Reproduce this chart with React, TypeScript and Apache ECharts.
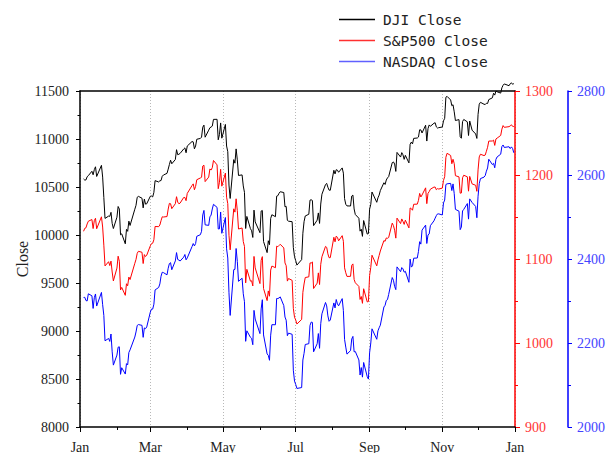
import React, { useEffect, useRef } from 'react';
import * as echarts from 'echarts';

// Trading days of 2010, one list of day numbers per month
const tradingDays: number[][] = [
  [4, 5, 6, 7, 8, 11, 12, 13, 14, 15, 19, 20, 21, 22, 25, 26, 27, 28, 29],
  [1, 2, 3, 4, 5, 8, 9, 10, 11, 12, 16, 17, 18, 19, 22, 23, 24, 25, 26],
  [1, 2, 3, 4, 5, 8, 9, 10, 11, 12, 15, 16, 17, 18, 19, 22, 23, 24, 25, 26, 29, 30, 31],
  [1, 5, 6, 7, 8, 9, 12, 13, 14, 15, 16, 19, 20, 21, 22, 23, 26, 27, 28, 29, 30],
  [3, 4, 5, 6, 7, 10, 11, 12, 13, 14, 17, 18, 19, 20, 21, 24, 25, 26, 27, 28],
  [1, 2, 3, 4, 7, 8, 9, 10, 11, 14, 15, 16, 17, 18, 21, 22, 23, 24, 25, 28, 29, 30],
  [1, 2, 6, 7, 8, 9, 12, 13, 14, 15, 16, 19, 20, 21, 22, 23, 26, 27, 28, 29, 30],
  [2, 3, 4, 5, 6, 9, 10, 11, 12, 13, 16, 17, 18, 19, 20, 23, 24, 25, 26, 27, 30, 31],
  [1, 2, 3, 7, 8, 9, 10, 13, 14, 15, 16, 17, 20, 21, 22, 23, 24, 27, 28, 29, 30],
  [1, 4, 5, 6, 7, 8, 11, 12, 13, 14, 15, 18, 19, 20, 21, 22, 25, 26, 27, 28, 29],
  [1, 2, 3, 4, 5, 8, 9, 10, 11, 12, 15, 16, 17, 18, 19, 22, 23, 24, 26, 29, 30],
  [1, 2, 3, 6, 7, 8, 9, 10, 13, 14, 15, 16, 17, 20, 21, 22, 23, 27, 28, 29, 30, 31],
];

const djiClose: number[] = [
  10583.96, 10572.02, 10573.68, 10606.86, 10618.19, 10663.99, 10627.26, 10680.77, 10710.55, 10609.65, 10725.43, 10603.15, 10389.88, 10172.98, 10196.86, 10194.29, 10236.16, 10120.46, 10067.33,
  10185.53, 10296.85, 10270.55, 10002.18, 10012.23, 9908.39, 10058.64, 10038.38, 10144.19, 10099.14, 10268.81, 10309.24, 10392.9, 10402.35, 10383.38, 10282.41, 10374.16, 10321.03, 10325.26,
  10403.79, 10405.98, 10396.76, 10444.14, 10566.2, 10552.52, 10564.38, 10567.33, 10611.84, 10624.69, 10642.15, 10685.98, 10733.67, 10779.17, 10741.98, 10785.89, 10888.83, 10836.15, 10841.21, 10850.36, 10895.86, 10907.42, 10856.63,
  10927.07, 10973.55, 10969.99, 10897.52, 10927.07, 10997.35, 11005.97, 11019.42, 11123.11, 11144.57, 11018.66, 11092.05, 11117.06, 11124.92, 11134.29, 11204.28, 11205.03, 10991.99, 11045.27, 11167.32, 11008.61,
  11151.83, 10926.77, 10868.12, 10520.32, 10380.43, 10785.14, 10748.26, 10896.91, 10782.95, 10620.16, 10625.83, 10510.95, 10444.37, 10068.01, 10193.39, 10066.57, 10043.75, 9974.45, 10258.99, 10136.63,
  10024.02, 10249.54, 10255.28, 9931.97, 9816.49, 9939.98, 9899.25, 10172.53, 10211.07, 10190.89, 10404.77, 10409.46, 10434.17, 10450.64, 10442.41, 10293.52, 10298.44, 10152.8, 10143.81, 10138.52, 9870.3, 9774.02,
  9732.53, 9686.48, 9743.62, 10018.28, 10138.99, 10198.03, 10216.27, 10363.02, 10366.72, 10359.31, 10097.9, 10154.43, 10229.96, 10120.53, 10322.3, 10424.62, 10525.43, 10537.69, 10497.88, 10467.16, 10465.94,
  10674.38, 10636.38, 10680.43, 10674.98, 10653.56, 10698.75, 10644.25, 10378.83, 10319.95, 10303.15, 10302.01, 10405.85, 10415.54, 10271.21, 10213.62, 10174.41, 10040.45, 10060.06, 9985.81, 10150.65, 10009.73, 10014.72,
  10269.47, 10320.1, 10447.93, 10340.69, 10387.01, 10415.24, 10462.77, 10544.13, 10526.49, 10572.73, 10594.83, 10607.85, 10753.62, 10761.03, 10739.31, 10662.42, 10860.26, 10812.04, 10858.14, 10835.28, 10788.05,
  10829.68, 10751.27, 10944.72, 10967.65, 10948.58, 11006.48, 11010.34, 11020.4, 11096.08, 11094.57, 11062.78, 11143.69, 10978.62, 11107.97, 11146.57, 11132.56, 11164.05, 11169.46, 11126.28, 11113.95, 11118.49,
  11124.62, 11188.72, 11215.13, 11434.84, 11444.08, 11406.84, 11346.75, 11357.04, 11283.1, 11192.58, 11201.97, 11023.5, 11007.88, 11181.23, 11203.55, 11178.58, 11036.37, 11187.28, 11092.0, 11052.49, 11006.02,
  11255.78, 11362.41, 11382.09, 11362.19, 11359.16, 11372.48, 11370.06, 11410.32, 11428.56, 11476.54, 11457.47, 11499.25, 11491.91, 11478.13, 11533.16, 11559.49, 11573.49, 11555.03, 11575.54, 11585.38, 11569.71, 11577.51,
];

const spxClose: number[] = [
  1132.99, 1136.52, 1137.14, 1141.69, 1144.98, 1146.98, 1136.22, 1145.68, 1148.46, 1136.03, 1150.23, 1138.04, 1116.48, 1091.76, 1096.78, 1092.17, 1097.5, 1084.53, 1073.87,
  1089.19, 1103.32, 1097.28, 1063.11, 1066.19, 1056.74, 1070.52, 1068.13, 1078.47, 1075.51, 1094.87, 1099.51, 1106.75, 1109.17, 1108.01, 1094.6, 1105.24, 1102.94, 1104.49,
  1115.71, 1118.31, 1118.79, 1122.97, 1138.7, 1138.5, 1140.45, 1145.61, 1150.24, 1149.99, 1150.51, 1159.46, 1166.21, 1165.83, 1159.9, 1165.81, 1174.17, 1167.72, 1165.73, 1166.59, 1173.22, 1173.27, 1169.43,
  1178.1, 1187.44, 1189.44, 1182.45, 1186.44, 1194.37, 1196.48, 1197.3, 1210.65, 1211.67, 1192.13, 1197.52, 1207.17, 1205.94, 1208.67, 1217.28, 1212.05, 1183.71, 1191.36, 1206.78, 1186.69,
  1202.26, 1173.6, 1165.87, 1128.15, 1110.88, 1159.73, 1155.79, 1171.67, 1157.44, 1135.68, 1136.94, 1120.8, 1115.05, 1071.59, 1087.69, 1073.65, 1074.03, 1067.95, 1103.06, 1089.41,
  1070.71, 1098.38, 1102.83, 1064.88, 1050.47, 1062.0, 1055.69, 1086.84, 1091.6, 1089.63, 1115.23, 1114.61, 1116.04, 1117.51, 1113.2, 1095.31, 1092.04, 1073.69, 1076.76, 1074.57, 1041.24, 1030.71,
  1027.37, 1022.58, 1028.06, 1060.27, 1070.25, 1077.96, 1078.75, 1095.34, 1095.17, 1096.48, 1064.88, 1071.25, 1083.48, 1069.59, 1093.67, 1102.66, 1115.01, 1113.84, 1106.13, 1101.53, 1101.6,
  1125.86, 1120.46, 1127.24, 1125.81, 1121.64, 1127.79, 1121.06, 1089.47, 1083.61, 1079.25, 1079.38, 1092.54, 1094.16, 1075.63, 1071.69, 1067.36, 1051.87, 1055.33, 1047.22, 1064.59, 1048.92, 1049.33,
  1080.29, 1090.1, 1104.51, 1091.84, 1098.87, 1104.18, 1109.55, 1121.9, 1121.1, 1125.07, 1124.66, 1125.59, 1142.71, 1139.78, 1134.28, 1124.83, 1148.67, 1142.16, 1147.7, 1144.73, 1141.2,
  1146.24, 1137.03, 1160.75, 1159.97, 1158.06, 1165.15, 1165.32, 1169.77, 1178.1, 1173.81, 1176.19, 1184.71, 1165.9, 1178.17, 1180.26, 1183.08, 1185.62, 1185.64, 1182.45, 1183.78, 1183.26,
  1184.38, 1193.57, 1197.96, 1221.06, 1225.85, 1223.25, 1213.4, 1218.71, 1213.54, 1199.21, 1197.75, 1178.34, 1178.59, 1196.69, 1199.73, 1197.84, 1180.73, 1198.35, 1189.4, 1187.76, 1180.55,
  1206.07, 1221.53, 1224.71, 1223.12, 1223.75, 1228.28, 1233.0, 1240.4, 1240.46, 1241.59, 1235.23, 1242.87, 1243.91, 1247.08, 1254.6, 1258.84, 1256.77, 1257.54, 1258.51, 1259.78, 1257.88, 1257.64,
];

const nasdaqClose: number[] = [
  2308.42, 2308.71, 2301.09, 2300.05, 2317.17, 2312.41, 2282.31, 2307.9, 2316.74, 2287.99, 2320.4, 2291.25, 2265.7, 2205.29, 2210.8, 2203.73, 2221.41, 2179.0, 2147.35,
  2171.2, 2190.06, 2190.91, 2125.43, 2141.12, 2126.05, 2150.87, 2147.87, 2177.41, 2183.53, 2214.19, 2226.29, 2241.71, 2243.87, 2242.03, 2213.44, 2235.9, 2234.22, 2238.26,
  2273.57, 2280.79, 2280.68, 2292.31, 2326.35, 2332.21, 2340.68, 2358.95, 2368.46, 2367.66, 2362.21, 2378.01, 2389.09, 2391.28, 2374.41, 2395.4, 2415.24, 2398.76, 2397.41, 2395.13, 2404.36, 2410.69, 2397.96,
  2402.58, 2429.53, 2436.81, 2431.16, 2436.81, 2454.05, 2457.87, 2465.99, 2504.86, 2515.69, 2481.26, 2480.11, 2500.31, 2504.61, 2519.07, 2530.15, 2522.95, 2471.47, 2471.73, 2511.92, 2461.19,
  2498.74, 2424.25, 2402.29, 2319.64, 2265.64, 2374.67, 2375.31, 2425.02, 2394.36, 2346.85, 2354.23, 2317.26, 2298.37, 2204.01, 2229.04, 2213.55, 2210.95, 2195.88, 2277.68, 2257.04,
  2222.33, 2281.07, 2303.03, 2219.17, 2173.9, 2170.57, 2158.85, 2218.71, 2243.6, 2243.48, 2305.93, 2305.88, 2307.16, 2309.8, 2289.09, 2261.8, 2254.23, 2217.42, 2223.48, 2220.65, 2135.18, 2109.24,
  2101.36, 2091.79, 2093.88, 2159.47, 2175.4, 2196.45, 2198.36, 2242.03, 2249.84, 2249.08, 2179.05, 2198.23, 2222.49, 2187.33, 2245.89, 2269.47, 2296.43, 2288.25, 2264.56, 2251.69, 2254.7,
  2295.36, 2283.52, 2303.57, 2293.06, 2288.47, 2305.69, 2277.17, 2208.63, 2190.27, 2173.48, 2181.87, 2209.44, 2215.7, 2178.95, 2179.76, 2159.63, 2123.76, 2141.54, 2118.69, 2153.63, 2119.97, 2114.03,
  2176.84, 2200.01, 2233.75, 2208.89, 2228.87, 2236.2, 2242.48, 2285.71, 2289.77, 2301.32, 2303.25, 2315.61, 2355.83, 2349.35, 2334.55, 2327.08, 2381.22, 2369.77, 2379.59, 2376.56, 2368.62,
  2370.75, 2344.52, 2399.83, 2380.66, 2383.67, 2401.91, 2402.33, 2417.92, 2441.23, 2435.38, 2468.77, 2480.66, 2436.95, 2457.39, 2459.67, 2479.39, 2490.85, 2497.29, 2503.26, 2507.37, 2507.41,
  2504.84, 2533.52, 2540.27, 2577.34, 2578.98, 2580.05, 2562.98, 2578.78, 2555.52, 2518.21, 2513.82, 2469.84, 2476.01, 2514.4, 2518.12, 2532.02, 2494.95, 2543.12, 2534.56, 2525.22, 2498.23,
  2549.43, 2579.35, 2591.46, 2594.92, 2598.49, 2609.16, 2616.67, 2637.54, 2624.91, 2627.72, 2617.22, 2637.31, 2642.97, 2649.56, 2667.61, 2671.48, 2665.6, 2667.27, 2662.88, 2666.93, 2662.98, 2652.87,
];

const seriesNames = ['DJI Close', 'S&P500 Close', 'NASDAQ Close'];
const seriesColors = ['#000000', '#ff0000', '#0000ff'];
const legendColors = ['#000000', '#ff3030', '#6060ff'];
const monthLabels = ['Jan', 'Feb', 'Mar', 'Apr', 'May', 'Jun', 'Jul', 'Aug', 'Sep', 'Oct', 'Nov', 'Dec'];
const xRange = ['2010-01-01', '2011-01-01'];

const pad = (n: number) => (n < 10 ? '0' + n : '' + n);
const dates: string[] = tradingDays.flatMap((days, m) => days.map((d) => `2010-${pad(m + 1)}-${pad(d)}`));
const toPairs = (vals: number[]) => vals.map((v, i) => [dates[i], v]);

const SERIF = '"Liberation Serif", "DejaVu Serif", serif';
const MONO = '"DejaVu Sans Mono", "Liberation Mono", monospace';

export default function App() {
  const ref = useRef<HTMLDivElement>(null);
  useEffect(() => {
    document.body.style.margin = '0';
    if (!ref.current) return;
    const chart = echarts.init(ref.current, undefined, { renderer: 'svg' });
    const labelStyle = { fontFamily: SERIF, fontSize: 14 };
    const plain = (v: number) => String(v);
    const mkSeries = (i: number, vals: number[]) => ({
      name: seriesNames[i],
      type: 'line',
      yAxisIndex: i,
      showSymbol: false,
      symbol: 'none',
      clip: false,
      color: seriesColors[i],
      itemStyle: { color: seriesColors[i] },
      lineStyle: { width: 1, color: seriesColors[i] },
      data: toPairs(vals),
    });
    chart.setOption({
      animation: false,
      backgroundColor: '#fff',
      color: seriesColors,
      grid: { left: 80, right: 93, top: 91, bottom: 26, containLabel: false, outerBoundsMode: 'none' },
      legend: {
        orient: 'vertical',
        left: 334,
        top: 7,
        itemWidth: 36,
        itemHeight: 1.5,
        itemGap: 6,
        icon: 'rect',
        data: seriesNames.map((name, i) => ({
          name,
          icon: 'rect',
          itemStyle: { color: legendColors[i], borderWidth: 0 },
        })),
        textStyle: { fontFamily: MONO, fontSize: 14.5, color: '#222', lineHeight: 15, padding: [0, 0, 0, 3] },
      },
      xAxis: [
        {
          type: 'time',
          position: 'bottom',
          min: xRange[0],
          max: xRange[1],
          splitNumber: 5,
          axisLine: { show: true, onZero: false, lineStyle: { color: '#000', width: 1.5 } },
          axisTick: { show: true, length: 5, lineStyle: { color: '#000' } },
          axisLabel: {
            ...labelStyle,
            color: '#222',
            margin: 13,
            showMinLabel: true,
            showMaxLabel: true,
            hideOverlap: false,
            formatter: (v: number) => monthLabels[new Date(v).getMonth()],
          },
          splitLine: { show: true, lineStyle: { type: [1, 2], color: '#b8b8b8', width: 1 } },
        },
        {
          type: 'time',
          position: 'top',
          min: xRange[0],
          max: xRange[1],
          axisLine: { show: true, onZero: false, lineStyle: { color: '#000', width: 1.5 } },
          axisTick: { show: false },
          axisLabel: { show: false },
          splitLine: { show: false },
        },
        {
          type: 'time',
          position: 'bottom',
          min: xRange[0],
          max: xRange[1],
          splitNumber: 12,
          axisLine: { show: false, onZero: false },
          axisTick: { show: true, length: 3, lineStyle: { color: '#000' } },
          axisLabel: { show: false },
          splitLine: { show: false },
        },
      ],
      yAxis: [
        {
          type: 'value',
          position: 'left',
          min: 8000,
          max: 11500,
          interval: 500,
          name: 'Close',
          nameLocation: 'middle',
          nameGap: 50,
          nameMoveOverlap: false,
          nameTextStyle: { fontFamily: SERIF, fontSize: 16, color: '#222' },
          axisLine: { show: true, lineStyle: { color: '#000', width: 1.5 } },
          axisTick: { show: true, length: 4, lineStyle: { color: '#000' } },
          minorTick: { show: true, splitNumber: 2, length: 2.5, lineStyle: { color: '#000' } },
          axisLabel: { ...labelStyle, color: '#222', margin: 11, formatter: plain },
          splitLine: { show: false },
        },
        {
          type: 'value',
          position: 'right',
          offset: 0,
          min: 900,
          max: 1300,
          interval: 100,
          axisLine: { show: true, lineStyle: { color: '#ff0000', width: 1.5 } },
          axisTick: { show: true, length: 5, lineStyle: { color: '#ff0000' } },
          minorTick: { show: true, splitNumber: 2, length: 3, lineStyle: { color: '#ff0000' } },
          axisLabel: { ...labelStyle, color: '#ff3333', margin: 10, formatter: plain },
          splitLine: { show: false },
        },
        {
          type: 'value',
          position: 'right',
          offset: 53,
          min: 2000,
          max: 2800,
          interval: 200,
          axisLine: { show: true, lineStyle: { color: '#0000ff', width: 1.5 } },
          axisTick: { show: true, length: 4, lineStyle: { color: '#0000ff' } },
          minorTick: { show: true, splitNumber: 2, length: 3, lineStyle: { color: '#0000ff' } },
          axisLabel: { ...labelStyle, color: '#4444ff', margin: 9, formatter: plain },
          splitLine: { show: false },
        },
      ],
      series: [mkSeries(0, djiClose), mkSeries(1, spxClose), mkSeries(2, nasdaqClose)],
    });
    return () => chart.dispose();
  }, []);
  return <div ref={ref} style={{ width: 608, height: 453 }} />;
}
